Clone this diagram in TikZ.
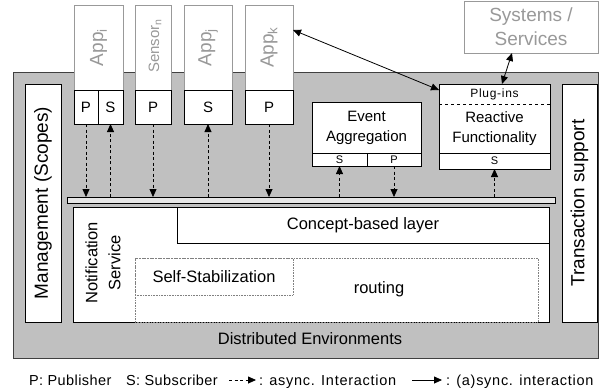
\documentclass[tikz,border=0pt]{standalone}
\usepackage{fontspec}
\setmainfont{Liberation Sans}
\usetikzlibrary{arrows.meta,calc}
\definecolor{bg}{HTML}{C0C0C0}
\definecolor{lg}{HTML}{999999}
\definecolor{barc}{HTML}{E6E6E6}
\newcommand{\fs}[1]{\fontsize{#1}{#1}\selectfont}
\tikzset{
  bx/.style={draw, fill=white, inner sep=0pt, outer sep=0pt, line width=0.8pt},
  gbx/.style={bx, draw=lg, text=lg},
  dotbx/.style={draw=gray, densely dotted, inner sep=0pt, outer sep=0pt, line width=0.6pt},
  lbl/.style={inner sep=0pt, outer sep=0pt},
  tip/.style={-{Triangle[length=8pt,width=7pt]}},
  dtip/.style={{Triangle[length=8pt,width=7pt]}-{Triangle[length=8pt,width=7pt]}},
  async/.style={tip, dash pattern=on 3pt off 2.5pt, line width=0.8pt},
  sync/.style={dtip, line width=0.8pt},
}
\begin{document}
\begin{tikzpicture}[x=1pt,y=-1pt]
\useasboundingbox (0,0) rectangle (599,391);
% gray environment
\node[draw=black!75, fill=bg, line width=0.8pt, minimum width=585pt, minimum height=286pt, inner sep=0pt, outer sep=0pt] (env) at (305.5,215) {};
\node[lbl] (distr) at (310,339) {\fs{16.5}Distributed Environments};
% side boxes
\node[bx, minimum width=36pt, minimum height=238pt] (mgmt) at (43,203) {};
\node[lbl, rotate=90] (mgmtt) at (43,203) {\fs{19}Management (Scopes)};
\node[bx, minimum width=35pt, minimum height=238pt] (trans) at (579.5,203) {};
\node[lbl, rotate=90] (transt) at (579.5,203) {\fs{19}Transaction support};
% apps
\node[gbx, minimum width=49pt, minimum height=85pt] (appi) at (98.5,47.5) {};
\node[lbl, rotate=90, text=lg] (appit) at (98.5,47.5) {\fs{19}App\textsubscript{i}};
\node[bx, minimum width=24pt, minimum height=34pt] (appiP) at (86,107) {\fs{15}P};
\node[bx, minimum width=25pt, minimum height=34pt] (appiS) at (110.5,107) {\fs{15}S};
\node[gbx, minimum width=36pt, minimum height=85pt] (sens) at (153,47.5) {};
\node[lbl, rotate=90, text=lg] (senst) at (155,46) {\fs{15}Sensor\textsubscript{n}};
\node[bx, minimum width=36pt, minimum height=34pt] (sensP) at (153,107) {\fs{15}P};
\node[gbx, minimum width=48pt, minimum height=85pt] (appj) at (208,47.5) {};
\node[lbl, rotate=90, text=lg] (appjt) at (208,47.5) {\fs{19}App\textsubscript{j}};
\node[bx, minimum width=48pt, minimum height=34pt] (appjS) at (208,107) {\fs{15}S};
\node[gbx, minimum width=48pt, minimum height=85pt] (appk) at (269,47.5) {};
\node[lbl, rotate=90, text=lg] (appkt) at (269,47.5) {\fs{19}App\textsubscript{k}};
\node[bx, minimum width=48pt, minimum height=34pt] (appkP) at (269,107) {\fs{15}P};
% systems
\node[gbx, minimum width=134pt, minimum height=52pt, align=center, font=\fontsize{19}{24}\selectfont] (sys) at (531,27) {Systems /\\Services};
% event aggregation
\node[bx, minimum width=109pt, minimum height=51pt, align=center, font=\fontsize{15}{20}\selectfont] (ev) at (366.5,127.5) {Event\\Aggregation};
\node[bx, minimum width=55pt, minimum height=13pt] (evS) at (339.5,159.5) {\fs{11}S};
\node[bx, minimum width=54pt, minimum height=13pt] (evP) at (394,159.5) {\fs{11}P};
% reactive functionality
\node[bx, minimum width=111pt, minimum height=85pt] (rf) at (494.5,126.5) {};
\draw[dashed, line width=0.8pt] ([yshift=-20pt]rf.north west) -- ([yshift=-20pt]rf.north east);
\node[lbl] (plug) at (494.5,94) {\fs{12}\addfontfeature{LetterSpace=6}Plug-ins};
\node[lbl, align=center, font=\fontsize{15}{20}\selectfont] (rft) at (494.5,128.5) {Reactive\\Functionality};
\node[bx, minimum width=111pt, minimum height=16pt] (rfS) at (494.5,161) {\fs{11}S};
% bar and notification service
\node[draw, fill=barc, line width=0.8pt, minimum width=488pt, minimum height=6pt, inner sep=0pt, outer sep=0pt] (bar) at (311,200) {};
\node[bx, minimum width=476pt, minimum height=115pt] (notif) at (311,264.5) {};
\node[bx, minimum width=372pt, minimum height=36pt] (concept) at (363,225) {\fs{16.5}Concept-based layer};
\node[lbl, rotate=90, align=center, font=\fontsize{16.5}{23}\selectfont] (notift) at (103,263) {Notification\\Service};
\node[dotbx, minimum width=403pt, minimum height=64pt] (routing) at (336.5,290) {};
\node[lbl] (routt) at (379,289) {\fs{16.5}routing};
\node[dotbx, minimum width=158pt, minimum height=37pt] (selfs) at (214,276.5) {\fs{16.5}Self-Stabilization};
% async arrows
\draw[async] (appiP.south) -- (appiP.south |- bar.north);
\draw[async] (appiS.south |- bar.north) -- (appiS.south);
\draw[async] (sensP.south) -- (sensP.south |- bar.north);
\draw[async] (appjS.south |- bar.north) -- (appjS.south);
\draw[async] (appkP.south) -- (appkP.south |- bar.north);
\draw[async] (evS.south |- bar.north) -- (evS.south);
\draw[async] (evP.south) -- (evP.south |- bar.north);
\draw[async] (rfS.south |- bar.north) -- (rfS.south);
% sync arrows
\draw[sync] ([yshift=-25pt]appk.north east) -- ([yshift=-6pt]rf.north west);
\draw[sync] ([xshift=-19pt]sys.south) -- ([xshift=7.5pt]rf.north);
% legend
\node[lbl, anchor=base west] (lp) at (29,385) {\fs{14.5}\addfontfeature{LetterSpace=3}P: Publisher};
\node[lbl, anchor=base west] (ls) at (126,385) {\fs{14.5}\addfontfeature{LetterSpace=3}S: Subscriber};
\coordinate (la1) at (229,380);
\node[lbl, anchor=base west] (la) at (259,385) {\fs{14.5}\addfontfeature{LetterSpace=5}: async. Interaction};
\draw[async] (la1) -- ([xshift=-3pt]la.west |- la1);
\coordinate (ls1) at (412,380);
\node[lbl, anchor=base west] (lsy) at (446,385) {\fs{14.5}\addfontfeature{LetterSpace=5}: (a)sync. interaction};
\draw[tip, line width=0.8pt] (ls1) -- ([xshift=-4pt]lsy.west |- ls1);
\end{tikzpicture}
\end{document}
